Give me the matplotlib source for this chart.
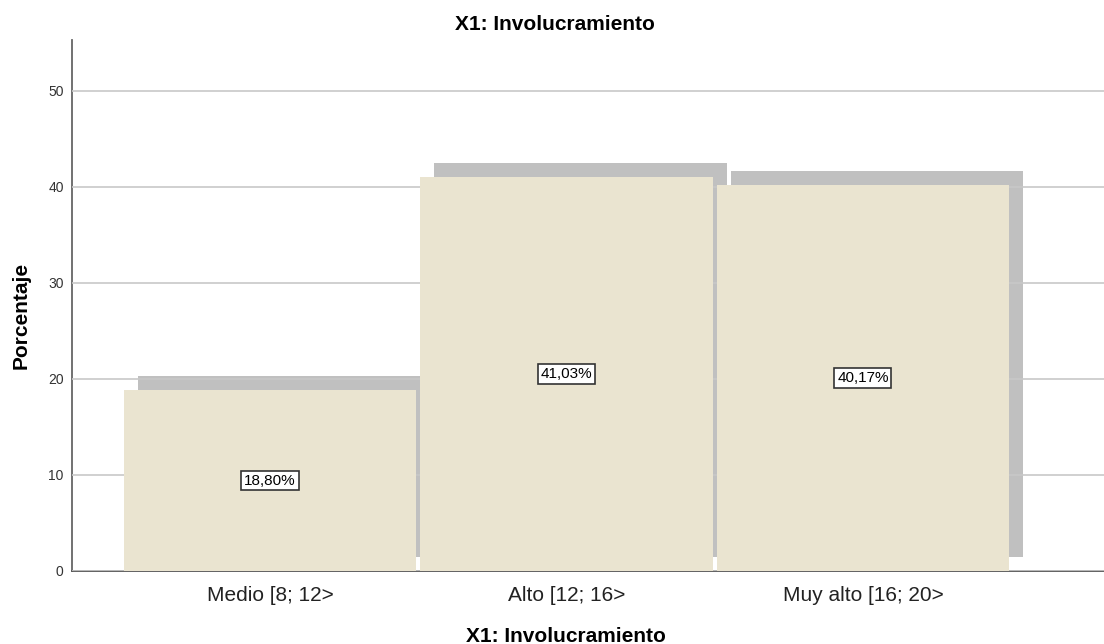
import matplotlib.pyplot as plt
import numpy as np
from matplotlib import transforms

plt.rcParams['font.family'] = ['Liberation Sans', 'DejaVu Sans']

categorias = ["Medio [8; 12>", "Alto [12; 16>", "Muy alto [16; 20>"]
porcentajes = [18.80, 41.03, 40.17]
etiquetas = ["18,80%", "41,03%", "40,17%"]
yticks = [0, 10, 20, 30, 40, 50]

fig = plt.figure(figsize=(11.04, 6.44), dpi=100)
ax = fig.add_axes([72 / 1104, 73 / 644, 1 - 72 / 1104, 531 / 644])

x = np.arange(len(categorias))
ancho = 0.985

# sombra desplazada 14 px a la derecha y arriba
sombra = transforms.offset_copy(ax.transData, fig=fig, x=14, y=14, units='dots')
ax.bar(x, porcentajes, width=ancho, color='#c0c0c0', transform=sombra, zorder=1)
ax.bar(x, porcentajes, width=ancho, color='#eae4d0', zorder=3)

for xi, v, t in zip(x, porcentajes, etiquetas):
    ax.text(xi, v / 2, t, ha='center', va='center', fontsize=11, zorder=5,
            bbox=dict(boxstyle='square,pad=0.18', fc='white', ec='#333333', lw=1.2))

ax.set_xlim(-0.668, 2.813)
ax.set_ylim(0, 55.3)
ax.set_yticks(yticks)
ax.set_xticks(x)
ax.set_xticklabels(categorias, fontsize=15, color='#222222')
ax.tick_params(axis='y', length=0, labelsize=10, pad=6, colors='#333333')
ax.tick_params(axis='x', length=0, pad=11)
ax.yaxis.grid(True, color='#c8c8c8', lw=1.2, zorder=2)
ax.set_axisbelow(False)
for l in ax.get_ygridlines():
    l.set_zorder(2)

for s in ['top', 'right']:
    ax.spines[s].set_visible(False)
ax.spines['left'].set_color('#666666')
ax.spines['left'].set_linewidth(1.3)
ax.spines['bottom'].set_color('#555555')
ax.spines['bottom'].set_linewidth(1.3)
ax.spines['bottom'].set_zorder(2.5)

fig.text(555 / 1104, 1 - 30 / 644, "X1: Involucramiento", ha='center', va='baseline',
         fontsize=15, fontweight='bold')
fig.text(566 / 1104, 1 - 642 / 644, "X1: Involucramiento", ha='center', va='baseline',
         fontsize=15, fontweight='bold')
fig.text(21 / 1104, 1 - 315 / 644, "Porcentaje", rotation=90, ha='center',
         va='center', fontsize=15, fontweight='bold')

fig.savefig("out.png", dpi=100)
